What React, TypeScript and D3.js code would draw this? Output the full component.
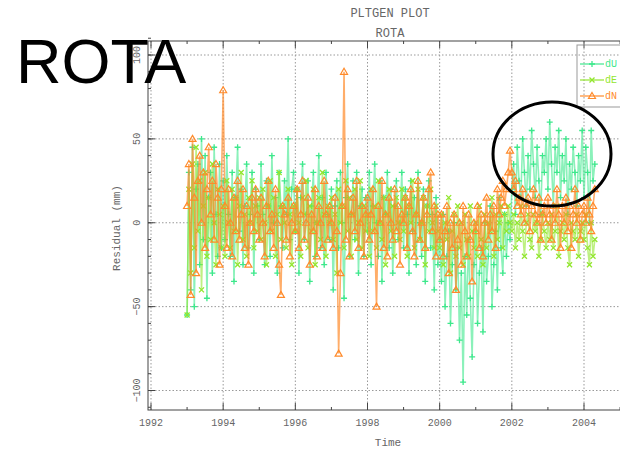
import React from "react";
import * as d3 from "d3";

const seriesNames = ["dU", "dE", "dN"];
const seriesColors = ["#3de88c", "#92e62e", "#ff8a2a"];
const sampleStart = 1993.0;
const sampleStep = 0.05;

const dU = [
  -55, 30, -40, 45, -50, 20, 35, -25, 50, -10, 40, -45, 15, 30, -30, 45, 5, -20, 35, -15,
  25, -10, 40, 5, -20, 30, -35, 15, 45, -5, 20, -25, 10, 35, -15, 5, 30, -30, 20, 10,
  -10, 35, 5, -25, 25, 10, -20, 40, 0, 15, -30, 30, 10, -15, 25, 5, 50, -10, 20, 30,
  -5, 20, -30, 15, 35, -10, 5, 25, -35, 10, 30, -20, 0, 40, -15, 15, -25, 30, 5, -10,
  20, -40, 10, 25, -15, 30, 0, -45, 15, 35, -20, 5, 25, -10, 30, -30, 10, 20, -20, 15,
  -5, 30, -25, 10, 35, 0, -20, 25, -35, 15, 5, 30, -15, 20, -30, 10, 25, -10, 0, 30,
  -15, 20, 5, -30, 25, -5, 15, -25, 30, 0, -20, 20, -35, 10, 25, -15, 5, -40, 15, -25,
  -10, -35, 5, -50, -20, -5, -60, -25, 0, -40, -15, -70, -30, -95, -20, -55, -10, -45, -80, -25,
  -5, -60, -30, -15, -65, 0, -35, -20, 10, -50, -25, -5, -40, 15, -15, -30, 5, -20, 0, -10,
  20, 35, 5, 45, 25, 15, 50, 30, 10, 40, 20, 55, 35, 15, 45, 25, 5, 40, 30, 50,
  20, 60, 35, 10, 45, 30, 55, 15, 40, 25, 50, 5, 35, 20, 45, 30, 10, 40, 25, 55,
  15, 45, 30, 0, 55, 25, 35,
];

const dE = [
  -55, 20, -30, 35, -15, 45, -5, 25, -40, 10, 30, -20, 15, -10, 35, 0, -25, 20, 5, -15,
  10, -20, 25, 0, -15, 20, -5, 15, -25, 10, 30, -10, 5, -20, 15, 0, 25, -15, 10, -5,
  15, -10, 20, 0, -25, 10, 25, -5, 15, -20, 5, 30, -10, 10, 0, -15, 20, 5, -25, 10,
  -5, 20, 0, -20, 15, 5, 25, -15, 10, -5, 20, -25, 0, 15, -10, 30, 5, -20, 10, 0,
  15, -10, 5, -30, 20, 0, 10, -15, 25, -5, 15, -20, 5, 20, -10, 0, 25, -15, 10, -5,
  5, -20, 20, -5, 10, -15, 25, 0, -10, 15, -25, 5, 20, -5, 10, -20, 15, 0, -10, 20,
  -5, 15, -20, 10, 0, 25, -15, 5, 20, -10, 0, 15, -25, 10, -5, 20, 0, -15, 10, -5,
  -15, 5, -25, 0, -10, 15, -30, -5, 5, -20, 10, -15, 0, -25, 5, -10, -20, 10, -5, -15,
  0, -20, 10, -10, -25, 5, -15, 0, -5, 15, -20, 5, -10, 0, 10, -15, 5, -5, 10, 0,
  -5, 5, -15, 0, -10, 10, -5, -20, 0, 5, -10, -15, 5, -5, 0, -20, -10, 5, -5, -15,
  0, -10, 5, -15, -5, 10, -20, -5, 0, -10, 5, -15, -25, 0, -5, -10, 5, -20, -5, 0,
  -10, 5, -15, -25, 0, -20, -10,
];

const dN = [
  10, 35, -43, 50, 15, -30, 25, 40, 0, 30, -15, 20, 45, 5, 25, -10, 35, 15, -25, 20,
  79, 10, -15, 20, 0, -20, 15, -5, 25, -10, 5, 20, -15, 10, -25, 0, 15, -5, 20, 5,
  -10, 15, 0, -20, 10, 25, -5, 5, -15, 20, 0, -25, -43, 10, 5, -10, 15, -20, 0, 10,
  -5, 20, -15, 5, 25, -10, 0, 15, -25, 5, -5, 20, -20, 10, 0, -15, 25, 5, -10, 10,
  0, -15, 15, -5, -78, -30, 10, 90, -10, 20, -20, 5, 15, -5, 25, -15, 0, 10, -20, 5,
  15, -10, 5, 20, -5, -50, 10, 0, 25, -15, 5, -20, 15, 0, -10, 20, -5, 10, -25, 5,
  0, 15, -15, 10, 20, -5, -20, 5, 25, -10, 0, 15, -15, 5, 20, 30, -5, 10, -20, 5,
  -10, 5, -20, -5, 10, -30, 0, -15, 5, -40, -10, 0, -25, 10, -5, -20, 5, -10, -35, 0,
  -5, 10, -15, 5, -20, 0, 15, -10, 5, -5, 10, -15, 20, 5, 15, 25, 10, 20, 30, 43,
  30, 20, 25, 10, 15, 5, 20, 0, 10, 15, -5, 10, 20, 5, 0, 15, -10, 5, 10, 0,
  15, 5, -10, 10, 0, 20, 5, -15, 10, 0, 15, -5, 10, -15, 5, 20, 0, 10, -10, 5,
  10, 0, 15, 5, -5, 10, 20,
];

const seriesValues = [dU, dE, dN];
const xTickYears = [1992, 1994, 1996, 1998, 2000, 2002, 2004];
const xMinorYears = [1993, 1995, 1997, 1999, 2001, 2003, 2005];
const yTicks = [-100, -50, 0, 50, 100];
const yMinor = d3.range(-110, 111, 10);

const W = 620;
const H = 449;
const frame = { left: 148, right: 640, top: 41, bottom: 410 };
const x = d3.scaleLinear().domain([1992, 2004]).range([151, 584]);
const y = d3.scaleLinear().domain([-100, 100]).range([390.5, 55]);

const monoFont = "'Liberation Mono', 'DejaVu Sans Mono', monospace";
const lineOpacity = [0.6, 0.6, 0.7];

function Marker({ kind, cx, cy, color }: { kind: number; cx: number; cy: number; color: string }) {
  if (kind === 0) {
    return (
      <path d={`M${cx - 3},${cy}H${cx + 3}M${cx},${cy - 3}V${cy + 3}`} stroke={color} strokeWidth={1.3} fill="none" />
    );
  }
  if (kind === 1) {
    return (
      <path d={`M${cx - 2.5},${cy - 2.5}L${cx + 2.5},${cy + 2.5}M${cx - 2.5},${cy + 2.5}L${cx + 2.5},${cy - 2.5}`} stroke={color} strokeWidth={1.3} fill="none" />
    );
  }
  return (
    <path d={`M${cx},${cy - 3.5}L${cx + 3.5},${cy + 2.5}L${cx - 3.5},${cy + 2.5}Z`} stroke={color} strokeWidth={1.2} fill="none" />
  );
}

export default function App() {
  const line = d3
    .line<[number, number]>()
    .x((d) => x(d[0]))
    .y((d) => y(d[1]));

  const series = seriesValues.map((vals) =>
    vals.map((v, i) => [sampleStart + i * sampleStep, v] as [number, number])
  );

  return (
    <svg
      width={W}
      height={H}
      style={{ position: "absolute", left: 0, top: 0, display: "block", background: "#fff" }}
    >
      <defs>
        <clipPath id="plotClip">
          <rect x={frame.left} y={frame.top} width={frame.right - frame.left} height={frame.bottom - frame.top} />
        </clipPath>
      </defs>

      {/* titles */}
      <text x={390} y={17} textAnchor="middle" fontFamily={monoFont} fontSize={12} fill="#666">
        PLTGEN PLOT
      </text>
      <text x={390} y={37} textAnchor="middle" fontFamily={monoFont} fontSize={12} fill="#666">
        ROTA
      </text>

      {/* grid */}
      {xTickYears.map((yr) => (
        <line key={"gx" + yr} x1={x(yr)} x2={x(yr)} y1={frame.top} y2={frame.bottom} stroke="#999" strokeDasharray="1.5,2" />
      ))}
      {yTicks.map((v) => (
        <line key={"gy" + v} x1={frame.left} x2={frame.right} y1={y(v)} y2={y(v)} stroke="#999" strokeDasharray="1.5,2" />
      ))}

      {/* data */}
      <g clipPath="url(#plotClip)">
        {series.map((pts, si) => (
          <g key={"s" + si}>
            <path d={line(pts) || ""} fill="none" stroke={seriesColors[si]} strokeOpacity={lineOpacity[si]} strokeWidth={1.6} />
            {pts.map((p, i) => (
              <Marker key={i} kind={si} cx={x(p[0])} cy={y(p[1])} color={seriesColors[si]} />
            ))}
          </g>
        ))}
      </g>

      {/* frame */}
      <rect x={frame.left} y={frame.top} width={frame.right - frame.left} height={frame.bottom - frame.top} fill="none" stroke="#444" strokeWidth={1} />

      {/* x ticks */}
      {xTickYears.map((yr) => (
        <g key={"xt" + yr}>
          <line x1={x(yr)} x2={x(yr)} y1={frame.bottom} y2={frame.bottom - 7} stroke="#444" />
          <line x1={x(yr)} x2={x(yr)} y1={frame.top} y2={frame.top + 7} stroke="#444" />
          <text x={x(yr)} y={426} textAnchor="middle" fontFamily={monoFont} fontSize={10} fill="#666">
            {String(yr)}
          </text>
        </g>
      ))}
      {xMinorYears.map((yr) => (
        <g key={"xm" + yr}>
          <line x1={x(yr)} x2={x(yr)} y1={frame.bottom} y2={frame.bottom - 3} stroke="#444" />
          <line x1={x(yr)} x2={x(yr)} y1={frame.top} y2={frame.top + 3} stroke="#444" />
        </g>
      ))}

      {/* y ticks */}
      {yMinor.map((v) => (
        <line key={"ym" + v} x1={frame.left} x2={frame.left + 3} y1={y(v)} y2={y(v)} stroke="#444" />
      ))}
      {yTicks.map((v) => (
        <g key={"yt" + v}>
          <line x1={frame.left} x2={frame.left + 7} y1={y(v)} y2={y(v)} stroke="#444" />
          <text
            transform={`translate(${frame.left - 8},${y(v)}) rotate(-90)`}
            textAnchor="middle"
            fontFamily={monoFont}
            fontSize={10}
            fill="#666"
          >
            {v < 0 ? "\u2212" + Math.abs(v) : String(v)}
          </text>
        </g>
      ))}

      {/* axis labels */}
      <text transform={`translate(120,228) rotate(-90)`} textAnchor="middle" fontFamily={monoFont} fontSize={11} fill="#666">
        Residual (mm)
      </text>
      <text x={388} y={446} textAnchor="middle" fontFamily={monoFont} fontSize={11} fill="#666">
        Time
      </text>

      {/* legend */}
      <rect x={577} y={45} width={80} height={62} fill="none" stroke="#999" />
      {seriesNames.map((name, i) => {
        const ly = 64 + i * 16;
        return (
          <g key={"lg" + name}>
            <line x1={580} x2={604} y1={ly} y2={ly} stroke={seriesColors[i]} strokeWidth={1.2} />
            <Marker kind={i} cx={592} cy={ly} color={seriesColors[i]} />
            <text x={605} y={ly + 3} fontFamily={monoFont} fontSize={10} fill={seriesColors[i]}>
              {name}
            </text>
          </g>
        );
      })}

      {/* annotations */}
      <text x={16} y={83} fontFamily="'Liberation Sans', Arial, sans-serif" fontSize={63} fill="#000">
        ROTA
      </text>
      <ellipse cx={552} cy={154} rx={59} ry={52} fill="none" stroke="#000" strokeWidth={3} />
    </svg>
  );
}
